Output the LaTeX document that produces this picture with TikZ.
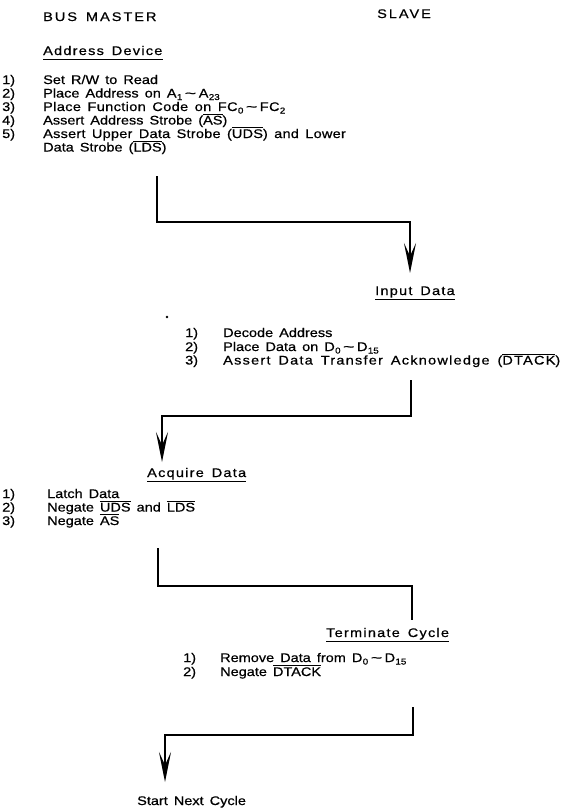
\documentclass[tikz,border=0pt]{standalone}
\usepackage{graphicx}
\usepackage{fontspec}
\setmainfont{Liberation Sans}[FakeStretch=1.16, WordSpace=1.5, FakeBold=0.6]
\usetikzlibrary{arrows.meta}
\newcommand{\lowx}[1]{\kern0.3pt\raisebox{-2.5pt}{\fontsize{8.5}{8.5}\selectfont #1}}
\newcommand{\negd}[1]{\leavevmode\vbox{\hrule height 0.8pt \kern 1.2pt \hbox{#1}}}
\newcommand{\wavy}{\kern2.5pt\scalebox{1.35}[1]{\textasciitilde}\kern2.5pt}

\begin{document}
\begin{tikzpicture}[x=1pt, y=-1pt, font=\fontsize{12.5}{13.5}\selectfont,
  >={Stealth[length=30pt, width=12pt, inset=13pt]},
  txt/.style={anchor=base west, inner sep=0pt},
  spaced/.style={txt, font=\fontsize{12.5}{13.5}\selectfont\addfontfeature{LetterSpace=#1}},
  title/.style={spaced=16},
  head/.style={spaced=10, text depth=4pt},
  uline/.style={line width=1.1pt},
  flow/.style={line width=1.6pt}]
  \useasboundingbox (0,0) rectangle (565,811);
  % column titles
  \node[title] (master) at (43,21) {BUS MASTER};
  \node[title] (slave) at (377,18) {SLAVE};
  % bus master: address device
  \node[head] (addr) at (43,55) {Address Device};
  \draw[uline] (addr.south west) -- (addr.south east);
  \foreach \k/\y in {1/84, 2/97.5, 3/111, 4/124.5, 5/138}
    \node[txt] (mn\k) at (2,\y) {\k)};
  \node[txt] (mrw) at (43,84) {Set R/W to Read};
  \node[txt] (madr) at (43,97.5) {Place Address on A\lowx{1}\wavy A\lowx{23}};
  \node[spaced=3] (mfc) at (43,111) {Place Function Code on FC\lowx{0}\wavy FC\lowx{2}};
  \node[txt] (mas) at (43,124.5) {Assert Address Strobe (\negd{AS})};
  \node[spaced=2] (muds) at (43,138) {Assert Upper Data Strobe (\negd{UDS}) and Lower};
  \node[txt] (mlds) at (43,151.5) {Data Strobe (\negd{LDS})};
  \coordinate (c1s) at (157,176);
  \coordinate (c1m) at (157,222);
  \coordinate (c1t) at (410,273);
  \draw[flow, ->] (c1s) -- (c1m) -| (c1t);
  % slave: input data
  \node[head] (input) at (375,295) {Input Data};
  \draw[uline] (input.south west) -- (input.south east);
  \fill (167,317) circle (1.3);
  \foreach \k/\y in {1/337, 2/351, 3/364.5}
    \node[txt] (sn\k) at (185,\y) {\k)};
  \node[txt] (sdec) at (223,337) {Decode Address};
  \node[txt] (sdat) at (223,351) {Place Data on D\lowx{0}\wavy D\lowx{15}};
  \node[spaced=10] (sack) at (223,364.5) {Assert Data Transfer Acknowledge (\negd{DTACK})};
  \coordinate (c2s) at (411,380);
  \coordinate (c2m) at (411,416);
  \coordinate (c2t) at (162,462);
  \draw[flow, ->] (c2s) -- (c2m) -| (c2t);
  % bus master: acquire data
  \node[head] (acq) at (147,477) {Acquire Data};
  \draw[uline] (acq.south west) -- (acq.south east);
  \foreach \k/\y in {1/498, 2/511.5, 3/525}
    \node[txt] (an\k) at (2,\y) {\k)};
  \node[txt] (alat) at (47,498) {Latch Data};
  \node[txt] (auds) at (47,511.5) {Negate \negd{UDS} and \negd{LDS}};
  \node[txt] (aas) at (47,525) {Negate \negd{AS}};
  \coordinate (c3s) at (158,548);
  \coordinate (c3m) at (158,586);
  \coordinate (c3t) at (412,620);
  \draw[flow] (c3s) -- (c3m) -| (c3t);
  % slave: terminate cycle
  \node[head] (term) at (326,637) {Terminate Cycle};
  \draw[uline] (term.south west) -- (term.south east);
  \foreach \k/\y in {1/662, 2/676}
    \node[txt] (tn\k) at (183,\y) {\k)};
  \node[txt] (trem) at (220,662) {Remove Data from D\lowx{0}\wavy D\lowx{15}};
  \node[txt] (tneg) at (220,676) {Negate \negd{DTACK}};
  \coordinate (c4s) at (413,707);
  \coordinate (c4m) at (413,735);
  \coordinate (c4t) at (165,782);
  \draw[flow, ->] (c4s) -- (c4m) -| (c4t);
  % next cycle
  \node[txt] (next) at (137,805) {Start Next Cycle};
\end{tikzpicture}
\end{document}
